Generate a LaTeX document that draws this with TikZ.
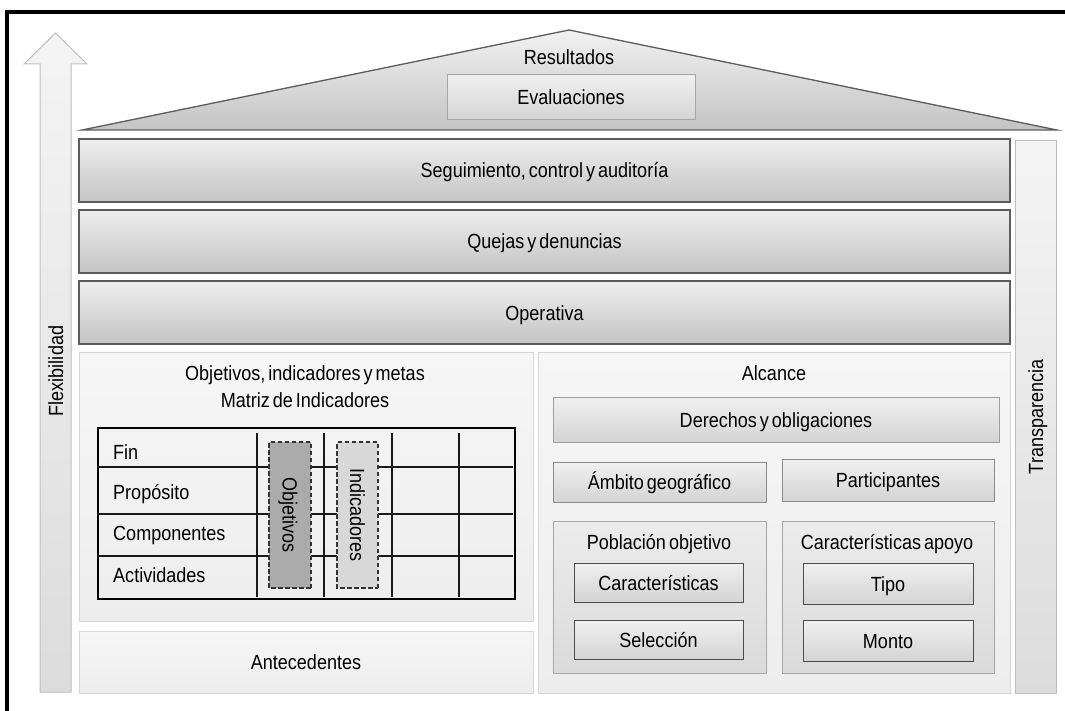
\documentclass[tikz,border=0pt]{standalone}
\usepackage{fontspec}
\setmainfont[FakeStretch=0.88,WordSpace=0.6]{Liberation Sans}
\definecolor{bandtop}{HTML}{EEEEEE}
\definecolor{bandbot}{HTML}{C4C4C4}
\definecolor{bandline}{HTML}{5C5C5C}
\definecolor{lighttop}{HTML}{F0F0F0}
\definecolor{lightbot}{HTML}{D4D4D4}
\definecolor{paneltop}{HTML}{F6F6F6}
\definecolor{panelbot}{HTML}{EDEDED}
\definecolor{panelline}{HTML}{D6D6D6}
\definecolor{grouptop}{HTML}{ECECEC}
\definecolor{groupbot}{HTML}{DADADA}
\definecolor{pillartop}{HTML}{F4F4F4}
\definecolor{pillarbot}{HTML}{DCDCDC}
\definecolor{pillarline}{HTML}{BEBEBE}
\definecolor{objfill}{HTML}{ABABAB}
\definecolor{indfill}{HTML}{D8D8D8}
\begin{document}
\begin{tikzpicture}[x=1pt,y=-1pt,
  font=\fontsize{20.5}{25}\selectfont,
  txt/.style={text height=15pt,text depth=0pt,inner sep=0pt},
  band/.style={txt,draw=bandline,line width=1.3pt,top color=bandtop,bottom color=bandbot,minimum width=931pt,minimum height=63pt},
  lightbox/.style={txt,draw=#1,line width=1pt,top color=lighttop,bottom color=lightbot},
  lightbox/.default={black!40},
  panel/.style={txt,draw=panelline,line width=1pt,top color=paneltop,bottom color=panelbot},
  group/.style={txt,draw=black!35,line width=1pt,top color=grouptop,bottom color=groupbot},
  dbox/.style={txt,draw=black!80,line width=1.3pt,dash pattern=on 4.5pt off 2.5pt,minimum width=146pt},
  pillar/.style={draw=pillarline,line width=1pt,top color=pillartop,bottom color=pillarbot},
  lbl/.style={txt,anchor=center},
  grid/.style={line width=1.3pt,black!90}
]
\useasboundingbox (0,0) rectangle (1065,711);
\fill[white] (0,0) rectangle (1065,711);
% outer frame
\coordinate (ftl) at (7,12);
\coordinate (ftr) at (1075,12);
\coordinate (fbl) at (7,720);
\draw[line width=4pt] (fbl) -- (ftl) -- (ftr);

% left arrow (Flexibilidad)
\draw[pillar] (40,692) -- (40,64) -- (24,64) -- (55.5,33) -- (87,64) -- (71,64) -- (71,692) -- cycle;
\node[lbl,rotate=90] (flex) at (55.5,371) {Flexibilidad};

% right pillar (Transparencia)
\node[pillar,minimum width=41pt,minimum height=552pt,inner sep=0pt] (transp) at (1035.5,417) {};
\node[lbl,rotate=90] (transpl) at (transp.center) {Transparencia};

% roof
\coordinate (rl) at (82,130);
\coordinate (ra) at (569,30);
\coordinate (rr) at (1057,130);
\draw[draw=bandline,line width=1.3pt,top color=bandtop!80!white,bottom color=bandbot,line join=miter] (rl) -- (ra) -- (rr) -- cycle;
\node[lbl] (res) at (569,57.5) {Resultados};
\node[lightbox=black!35,minimum width=248pt,minimum height=45pt] (eval) at (571,97.5) {Evaluaciones};

% bands
\node[band] (seg) at (544.5,170.5) {Seguimiento, control y auditoría};
\node[band] (quej) at (544.5,241.5) {Quejas y denuncias};
\node[band] (oper) at (544.5,312.5) {Operativa};

% left panel
\node[panel,minimum width=454pt,minimum height=269pt] (objp) at (306,486.5) {};
\node[lbl] (objt1) at (305,373) {Objetivos, indicadores y metas};
\node[lbl] (objt2) at (305,400) {Matriz de Indicadores};

% table
\node[draw,line width=1.4pt,minimum width=417pt,minimum height=171pt,inner sep=0pt] (tbl) at (306.5,513.5) {};
\foreach \yy in {467,514,556} \draw[grid] (tbl.west |- 0,\yy) -- (513,\yy);
\foreach \xx in {257,324,392,459} \draw[grid] (\xx,433) -- (\xx,597);
\node[txt,anchor=west] (fin) at (113,452) {Fin};
\node[txt,anchor=west] (prop) at (113,492) {Propósito};
\node[txt,anchor=west] (comp) at (113,533) {Componentes};
\node[txt,anchor=west] (act) at (113,575) {Actividades};
\node[dbox,fill=objfill,minimum height=42pt,rotate=-90] (objb) at (290,515) {Objetivos};
\node[dbox,fill=indfill,minimum height=41pt,rotate=-90] (indb) at (357.5,515) {Indicadores};

% Antecedentes
\node[panel,minimum width=454pt,minimum height=62pt] (ante) at (306,662) {Antecedentes};

% right panel (Alcance)
\node[panel,minimum width=472pt,minimum height=341pt] (alc) at (774,522.5) {};
\node[lbl] (alct) at (774,373) {Alcance};
\node[lightbox=black!38,minimum width=446pt,minimum height=45pt] (der) at (776,419.5) {Derechos y obligaciones};
\node[lightbox=black!45,minimum width=213pt,minimum height=40pt] (amb) at (659.5,482) {Ámbito geográfico};
\node[lightbox=black!45,minimum width=212pt,minimum height=42pt] (part) at (888,480) {Participantes};

\node[group,minimum width=213pt,minimum height=152pt] (pob) at (659.5,597) {};
\node[lbl] (pobt) at (659,542) {Población objetivo};
\node[lightbox=black!70,minimum width=169pt,minimum height=39pt] (car) at (658.5,582.5) {Características};
\node[lightbox=black!70,minimum width=169pt,minimum height=39pt] (sel) at (658.5,639.5) {Selección};

\node[group,minimum width=212pt,minimum height=152pt] (cap) at (888,597) {};
\node[lbl] (capt) at (887,542) {Características apoyo};
\node[lightbox=black!70,minimum width=170pt,minimum height=41pt] (tipo) at (888,583.5) {Tipo};
\node[lightbox=black!70,minimum width=170pt,minimum height=41pt] (mont) at (888,640.5) {Monto};
\end{tikzpicture}
\end{document}
